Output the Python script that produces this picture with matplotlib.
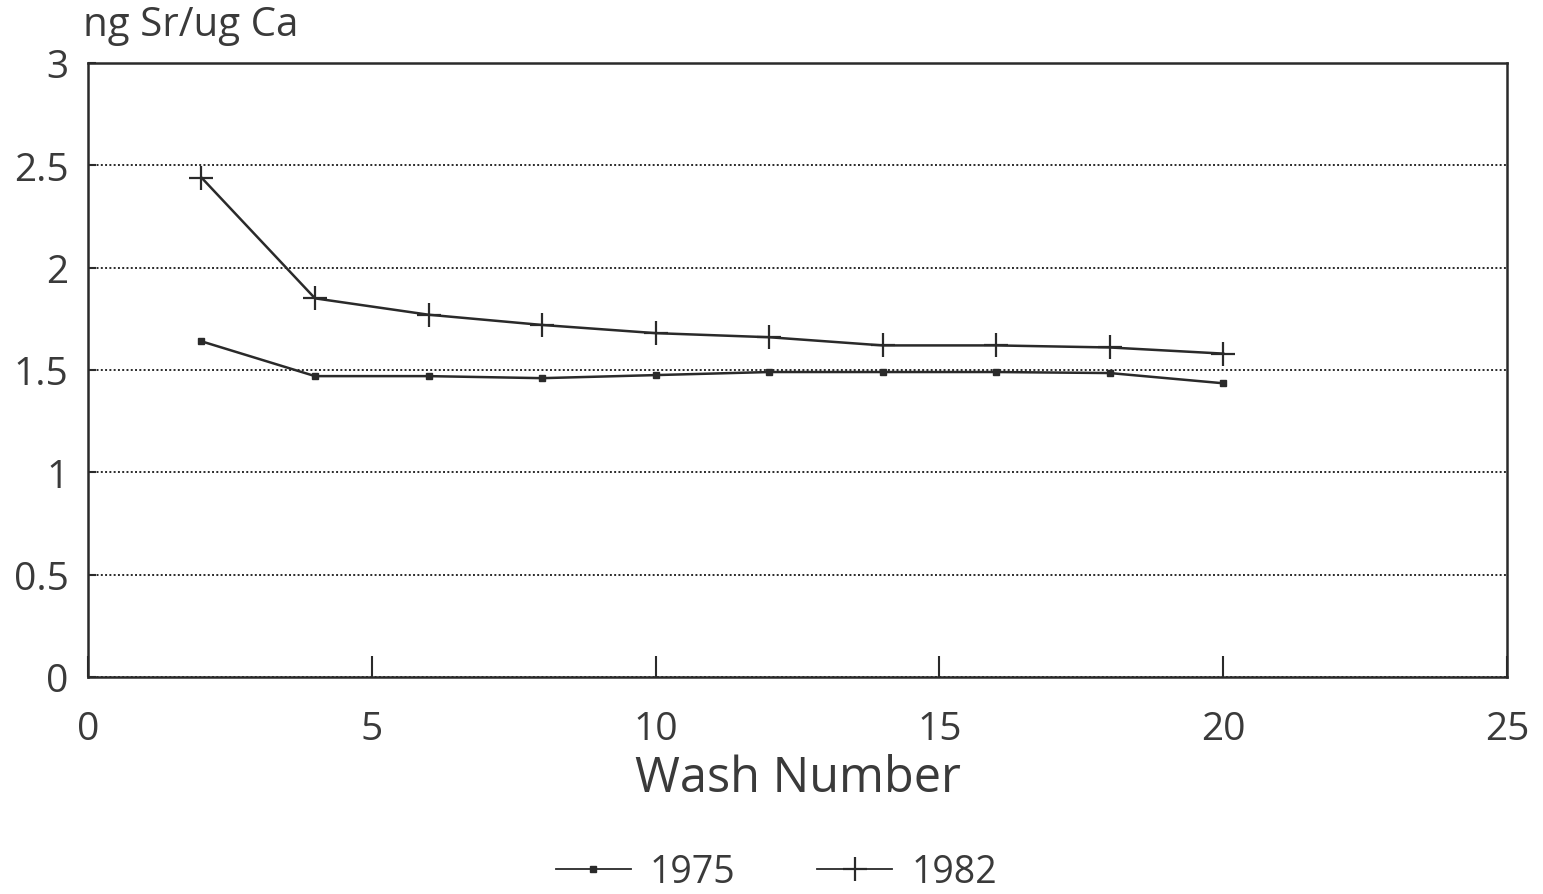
import matplotlib
matplotlib.use("Agg")
import matplotlib.pyplot as plt

# datos
wash = [2, 4, 6, 8, 10, 12, 14, 16, 18, 20]
sr_1975 = [1.64, 1.47, 1.47, 1.46, 1.475, 1.49, 1.49, 1.49, 1.485, 1.435]
sr_1982 = [2.44, 1.85, 1.77, 1.72, 1.68, 1.66, 1.62, 1.62, 1.61, 1.58]
xticks = [0, 5, 10, 15, 20, 25]
yticks = [0, 0.5, 1, 1.5, 2, 2.5, 3]
ytick_labels = ['0', '0.5', '1', '1.5', '2', '2.5', '3']

plt.rcParams['font.family'] = ['Open Sans', 'DejaVu Sans']
INK = '#2a2a2a'
TXT = '#3a3a3a'

fig = plt.figure(figsize=(15.43, 8.95), dpi=100)
ax = fig.add_axes([0.057, 0.2425, 0.9197, 0.686])

ax.plot(wash, sr_1975, color=INK, lw=1.8, marker='s', ms=4, label='1975')
ax.plot(wash, sr_1982, color=INK, lw=1.8, marker='+', ms=17, mew=1.6, label='1982')

ax.set_xlim(0, 25)
ax.set_ylim(0, 3)
ax.set_xticks(xticks)
ax.set_yticks(yticks)
ax.set_yticklabels(ytick_labels)
ax.grid(axis='y', color=INK, linestyle=(0, (1, 1.2)), lw=1.4)
ax.tick_params(axis='x', direction='in', length=15, width=1.5, colors=INK,
               labelcolor=TXT, labelsize=28, pad=24)
ax.tick_params(axis='y', direction='in', length=6, width=1.5, colors=INK,
               labelcolor=TXT, labelsize=28, pad=14)
for s in ax.spines.values():
    s.set_color(INK)
    s.set_linewidth(1.8)

ax.set_xlabel('Wash Number', fontsize=35, color=TXT, labelpad=4)
fig.text(0.054, 0.971, 'ng Sr/ug Ca', fontsize=29, color=TXT, va='center', ha='left')

leg = fig.legend(loc='center', bbox_to_anchor=(0.503, 0.025), ncol=2, frameon=False,
                 fontsize=27, handlelength=2.0, columnspacing=2.2, handletextpad=0.5,
                 labelcolor=TXT)
for h in leg.legend_handles:
    h.set_linewidth(1.3)

fig.savefig('out.png', dpi=100)
